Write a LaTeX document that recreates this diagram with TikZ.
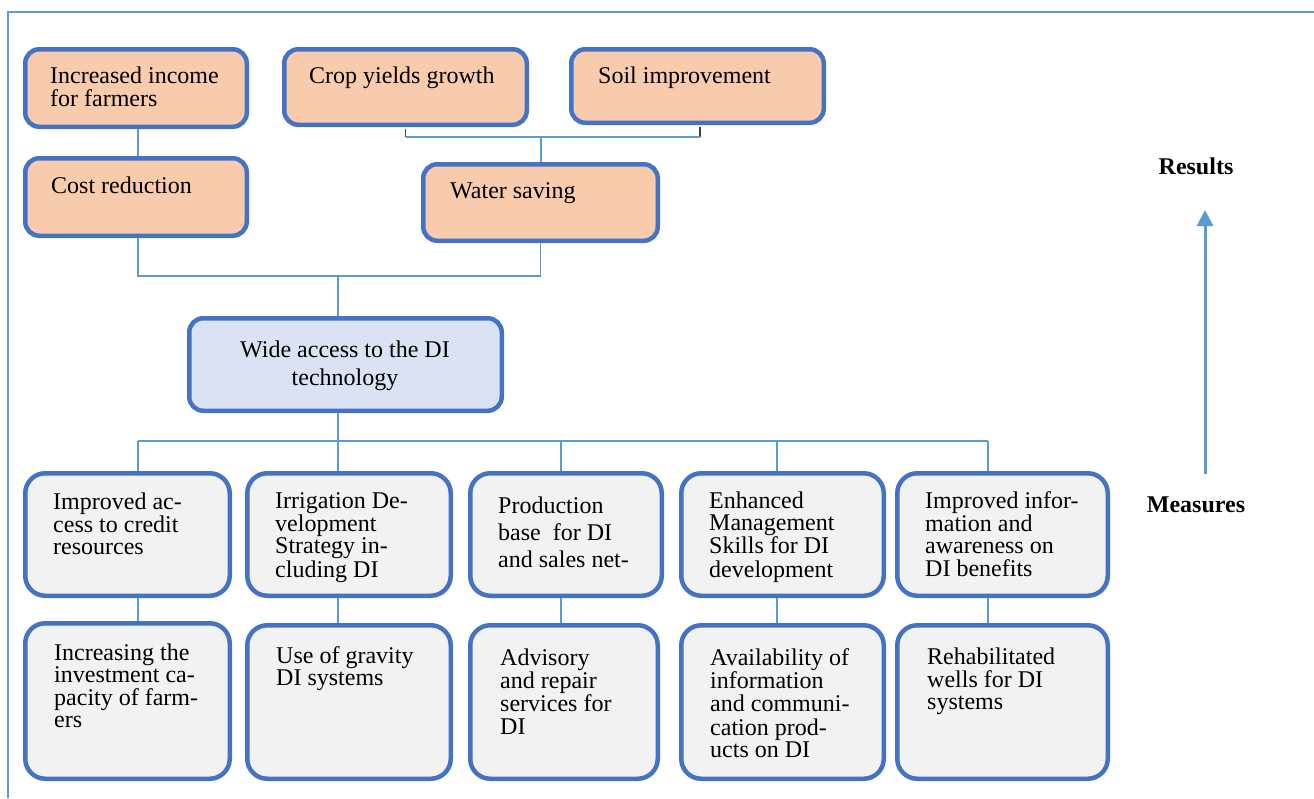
\documentclass[tikz,border=0pt]{standalone}
\usepackage{fontspec}
\setmainfont{Liberation Serif}
\usetikzlibrary{arrows.meta}
\definecolor{edgeblue}{HTML}{4472C4}
\definecolor{linkblue}{HTML}{5B9BD5}
\definecolor{resfill}{HTML}{F8CBAD}
\definecolor{corefill}{HTML}{DAE3F3}
\definecolor{measfill}{HTML}{F2F2F2}
\newcommand\stack[2][l]{\begin{tabular}[t]{@{}#1@{}}#2\end{tabular}}
\tikzset{
  box/.style={draw=edgeblue, line width=4.5pt, rounded corners=14pt, inner sep=0pt},
  resbox/.style={box, fill=resfill},
  corebox/.style={box, fill=corefill},
  measbox/.style={box, fill=measfill, rounded corners=20pt},
  txt/.style={inner sep=0pt, anchor=base west, font=\fontsize{24}{22}\selectfont},
  link/.style={draw=linkblue, line width=1.3pt},
  stub/.style={draw=black!75, line width=1.3pt},
  side/.style={inner sep=0pt, anchor=base, font=\fontsize{24}{24}\selectfont\bfseries},
}
\begin{document}
\begin{tikzpicture}[x=1pt, y=-1pt]
\useasboundingbox (0,0) rectangle (1314,798);
% outer frame
\draw[linkblue, line width=2pt] (8,798) -- (8,12) -- (1314,12);

% results
\node[resbox, minimum width=221.5, minimum height=77.5] (inc) at (136,88) {};
\node[txt] (inc-t) at (50,83) {\stack{Increased income\\for farmers}};
\node[resbox, minimum width=242.5, minimum height=75.5] (crop) at (405.5,87) {};
\node[txt] (crop-t) at (309,83) {Crop yields growth};
\node[resbox, minimum width=252.5, minimum height=73.5] (soil) at (697.5,86) {};
\node[txt] (soil-t) at (598,83) {Soil improvement};
\node[resbox, minimum width=221.5, minimum height=77.5] (cost) at (136,197) {};
\node[txt] (cost-t) at (51,193) {Cost reduction};
\node[resbox, minimum width=234.5, minimum height=76.5] (water) at (540.5,202.5) {};
\node[txt] (water-t) at (450,198) {Water saving};

% core objective
\node[corebox, minimum width=312.5, minimum height=92.5] (wide) at (345.5,364.5) {};
\node[txt, anchor=base, font=\fontsize{24}{28}\selectfont] (wide-t) at (345,357) {\stack[c]{Wide access to the DI\\technology}};

% measures, upper row
\node[measbox, minimum width=204.5, minimum height=122.5] (b1) at (127.5,534.5) {};
\node[txt] (b1-t) at (53,509) {\stack{Improved ac-\\cess to credit\\resources}};
\node[measbox, minimum width=203.5, minimum height=122.5] (b2) at (349,534.5) {};
\node[txt] (b2-t) at (275,508) {\stack{Irrigation De-\\velopment\\Strategy in-\\cluding DI}};
\node[measbox, minimum width=191.5, minimum height=122.5] (b3) at (566,534.5) {};
\node[txt, font=\fontsize{24}{27}\selectfont] (b3-t) at (498,513) {\stack{Production\\base\ \ for DI\\and sales net-}};
\node[measbox, minimum width=202.5, minimum height=122.5] (b4) at (782.5,534.5) {};
\node[txt] (b4-t) at (709,508) {\stack{Enhanced\\Management\\Skills for DI\\development}};
\node[measbox, minimum width=210.5, minimum height=122.5] (b5) at (1002.5,534.5) {};
\node[txt] (b5-t) at (925,508) {\stack{Improved infor-\\mation and\\awareness on\\DI benefits}};

% measures, lower row
\node[measbox, minimum width=204.5, minimum height=155.5] (c1) at (127.5,701) {};
\node[txt] (c1-t) at (54,660) {\stack{Increasing the\\investment ca-\\pacity of farm-\\ers}};
\node[measbox, minimum width=203.5, minimum height=153.5] (c2) at (349,702) {};
\node[txt] (c2-t) at (276,663) {\stack{Use of gravity\\DI systems}};
\node[measbox, minimum width=187.5, minimum height=153.5] (c3) at (564,702) {};
\node[txt] (c3-t) at (500,665) {\stack{Advisory\\and repair\\services for\\DI}};
\node[measbox, minimum width=202.5, minimum height=153.5] (c4) at (782.5,702) {};
\node[txt] (c4-t) at (710,665) {\stack{Availability of\\information\\and communi-\\cation prod-\\ucts on DI}};
\node[measbox, minimum width=210.5, minimum height=153.5] (c5) at (1002.5,702) {};
\node[txt] (c5-t) at (927,664) {\stack{Rehabilitated\\wells for DI\\systems}};

% junction points
\coordinate (jtop) at (541,137);
\coordinate (jmid) at (338,276);
\coordinate (jbus) at (338,441);
\coordinate (t1) at (138,441);
\coordinate (t2) at (338,441);
\coordinate (t3) at (561,441);
\coordinate (t4) at (777,441);
\coordinate (t5) at (988,441);

% connectors between results
\draw[link] (inc.south -| t1) -- (t1 |- cost.north);
\draw[stub] (crop.south) ++(0,2) -- (crop.south |- jtop);
\draw[stub] (soil.south) ++(2.5,2) -- ([xshift=2.5pt]soil.south |- jtop);
\draw[link] (crop.south |- jtop) -- ([xshift=2.5pt]soil.south |- jtop);
\draw[link] (jtop) -- (jtop |- water.north);
\draw[link] (cost.south -| t1) -- (t1 |- jmid) -- (jmid) -- (water.south |- jmid) -- (water.south);
\draw[link] (jmid) -- (jmid |- wide.north);

% connectors to measures
\draw[link] (jbus |- wide.south) -- (jbus);
\draw[link] (t1) -- (t5);
\foreach \i in {1,...,5}{
  \draw[link] (t\i) -- (t\i |- b\i.north);
  \draw[link] (t\i |- b\i.south) -- (t\i |- c\i.north);
}

% direction of reading
\node[side] (res) at (1196,174) {Results};
\node[side] (mea) at (1196,512) {Measures};
\coordinate (abot) at (1205,474);
\coordinate (atop) at (1205,210);
\draw[linkblue, line width=3pt, -{Triangle[width=16pt,length=16pt]}] (abot) -- (atop);
\end{tikzpicture}
\end{document}
